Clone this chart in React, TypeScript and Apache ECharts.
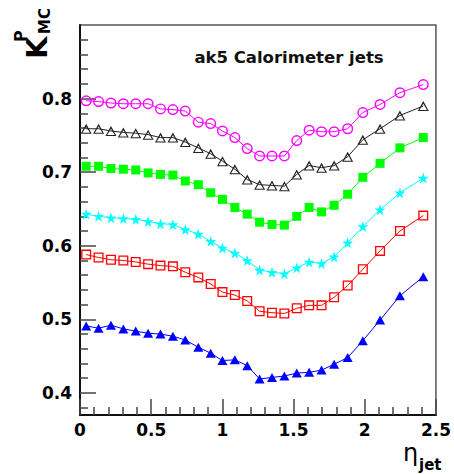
import React, { useEffect, useRef } from 'react';
import * as echarts from 'echarts';

const etaBins = [0.0435, 0.1305, 0.2175, 0.3045, 0.3915, 0.4785, 0.5655, 0.6525, 0.7395, 0.831, 0.918, 1.0005, 1.0875, 1.1745, 1.2615, 1.3485, 1.4355, 1.5225, 1.6095, 1.6965, 1.785, 1.88, 1.9865, 2.1075, 2.247, 2.411];

const magentaVals = [0.797, 0.796, 0.794, 0.793, 0.793, 0.793, 0.786, 0.785, 0.783, 0.768, 0.766, 0.756, 0.747, 0.732, 0.722, 0.722, 0.722, 0.743, 0.757, 0.755, 0.755, 0.759, 0.781, 0.792, 0.808, 0.819];
const blackVals = [0.759, 0.759, 0.756, 0.754, 0.753, 0.751, 0.747, 0.747, 0.741, 0.733, 0.725, 0.715, 0.704, 0.690, 0.683, 0.682, 0.681, 0.697, 0.709, 0.706, 0.709, 0.721, 0.744, 0.759, 0.777, 0.790];
const greenVals = [0.708, 0.708, 0.705, 0.704, 0.703, 0.699, 0.697, 0.696, 0.688, 0.683, 0.672, 0.663, 0.652, 0.643, 0.632, 0.629, 0.628, 0.640, 0.652, 0.646, 0.655, 0.670, 0.693, 0.712, 0.733, 0.747];
const cyanVals = [0.643, 0.640, 0.638, 0.637, 0.636, 0.633, 0.630, 0.629, 0.622, 0.616, 0.606, 0.597, 0.590, 0.580, 0.567, 0.564, 0.562, 0.570, 0.578, 0.576, 0.585, 0.604, 0.626, 0.649, 0.672, 0.692];
const redVals = [0.588, 0.584, 0.581, 0.580, 0.578, 0.575, 0.573, 0.572, 0.564, 0.557, 0.548, 0.537, 0.533, 0.525, 0.511, 0.509, 0.508, 0.515, 0.519, 0.519, 0.530, 0.546, 0.568, 0.593, 0.620, 0.641];
const blueVals = [0.491, 0.488, 0.492, 0.487, 0.484, 0.481, 0.480, 0.477, 0.472, 0.462, 0.454, 0.444, 0.445, 0.437, 0.419, 0.421, 0.423, 0.427, 0.428, 0.431, 0.439, 0.448, 0.471, 0.499, 0.532, 0.558];

const yLabelValues = [0.4, 0.5, 0.6, 0.7, 0.8];
const yMinorTicks = [0.38, 0.42, 0.44, 0.46, 0.48, 0.52, 0.54, 0.56, 0.58, 0.62, 0.64, 0.66, 0.68, 0.72, 0.74, 0.76, 0.78, 0.82, 0.84, 0.86, 0.88];

const titleText = 'ak5 Calorimeter jets';

const RING = 'path://M50,0 A50,50 0 1,1 50,100 A50,50 0 1,1 50,0 Z M50,13 A37,37 0 1,0 50,87 A37,37 0 1,0 50,13 Z';
const HOLLOW_SQ = 'path://M0,0 L100,0 L100,100 L0,100 Z M13,13 L13,87 L87,87 L87,13 Z';
const HOLLOW_TRI = 'path://M50,0 L100,100 L0,100 Z M50,27 L16,90 L84,90 Z';
const STAR = 'path://M50,0 L61,35 L98,35 L68,57 L79,91 L50,70 L21,91 L32,57 L2,35 L39,35 Z';

const LABEL_FONT = 'DejaVu Sans';

function mk(name: string, vals: number[], color: string, symbol: string, size: number | number[]) {
  return {
    name,
    type: 'line',
    data: etaBins.map((x, i) => [x, vals[i]]),
    symbol,
    symbolSize: size,
    showSymbol: true,
    lineStyle: { color, width: 1 },
    itemStyle: { color },
    emphasis: { disabled: true },
    xAxisIndex: 0,
    yAxisIndex: 0,
  };
}

export default function App() {
  const ref = useRef<HTMLDivElement>(null);
  useEffect(() => {
    if (!ref.current) return;
    const chart = echarts.init(ref.current, null, { renderer: 'svg' });
    const option: any = {
      animation: false,
      backgroundColor: '#ffffff',
      grid: {
        left: 80,
        right: 10,
        top: 25,
        bottom: 59,
        show: true,
        borderColor: '#555',
        borderWidth: 1.5,
        backgroundColor: 'transparent',
      },
      xAxis: [
        {
          type: 'value',
          min: 0,
          max: 2.5,
          interval: 0.5,
          axisLine: { show: true, onZero: false, lineStyle: { color: '#111', width: 2 } },
          axisTick: { show: true, inside: true, length: 16, lineStyle: { color: '#444', width: 1.5 } },
          minorTick: { show: true, splitNumber: 5, length: 8, lineStyle: { color: '#444', width: 1.5 } },
          splitLine: { show: false },
          axisLabel: {
            show: true,
            margin: 6,
            color: '#000',
            fontFamily: LABEL_FONT,
            fontWeight: 'bold',
            fontSize: 17,
            formatter: (v: number) => String(v),
          },
        },
      ],
      yAxis: [
        {
          type: 'value',
          min: 0.37,
          max: 0.9,
          position: 'left',
          axisLine: { show: true, onZero: false, lineStyle: { color: '#111', width: 2 } },
          axisTick: {
            show: true,
            inside: true,
            length: 16,
            customValues: yLabelValues,
            lineStyle: { color: '#444', width: 1.5 },
          },
          splitLine: { show: false },
          axisLabel: {
            show: true,
            margin: 8,
            color: '#000',
            fontFamily: LABEL_FONT,
            fontWeight: 'bold',
            fontSize: 17,
            customValues: yLabelValues,
            formatter: (v: number) => v.toFixed(1),
          },
        },
        {
          type: 'value',
          min: 0.37,
          max: 0.9,
          position: 'left',
          axisLine: { show: false },
          axisTick: {
            show: true,
            inside: true,
            length: 8,
            customValues: yMinorTicks,
            lineStyle: { color: '#444', width: 1.5 },
          },
          splitLine: { show: false },
          axisLabel: { show: false },
        },
      ],
      series: [
        mk('blue', blueVals, '#0000ff', 'triangle', [10, 9]),
        mk('red', redVals, '#ff0000', HOLLOW_SQ, 10),
        mk('cyan', cyanVals, '#00ffff', STAR, 11),
        mk('green', greenVals, '#00ff00', 'rect', 9),
        mk('black', blackVals, '#222222', HOLLOW_TRI, [11, 10]),
        mk('magenta', magentaVals, '#ff00ff', RING, 11),
      ],
      graphic: [
        {
          type: 'text',
          x: 289,
          y: 57,
          style: {
            text: titleText,
            font: `bold 16.5px "${LABEL_FONT}"`,
            fill: '#111',
            textAlign: 'center',
            textVerticalAlign: 'middle',
          },
        },
        {
          type: 'text',
          x: 37,
          y: 59,
          rotation: Math.PI / 2,
          style: {
            text: 'K',
            font: `bold 29px "${LABEL_FONT}"`,
            fill: '#000',
            textAlign: 'left',
            textVerticalAlign: 'middle',
          },
        },
        {
          type: 'text',
          x: 20,
          y: 42,
          rotation: Math.PI / 2,
          style: {
            text: 'P',
            font: `bold 16px "${LABEL_FONT}"`,
            fill: '#000',
            textAlign: 'left',
            textVerticalAlign: 'middle',
          },
        },
        {
          type: 'text',
          x: 45,
          y: 34,
          rotation: Math.PI / 2,
          style: {
            text: 'MC',
            font: `bold 15px "${LABEL_FONT}"`,
            fill: '#000',
            textAlign: 'left',
            textVerticalAlign: 'middle',
          },
        },
        {
          type: 'text',
          x: 403,
          y: 453,
          style: {
            text: 'η',
            font: `24px "${LABEL_FONT}"`,
            fill: '#000',
            textAlign: 'left',
            textVerticalAlign: 'middle',
          },
        },
        {
          type: 'text',
          x: 419,
          y: 465,
          style: {
            text: 'jet',
            font: `bold 15px "${LABEL_FONT}"`,
            fill: '#000',
            textAlign: 'left',
            textVerticalAlign: 'middle',
          },
        },
      ],
    };
    chart.setOption(option);
    return () => chart.dispose();
  }, []);
  return (
    <div
      ref={ref}
      style={{ position: 'absolute', left: 0, top: 0, width: 454, height: 474, background: '#fff' }}
    />
  );
}
